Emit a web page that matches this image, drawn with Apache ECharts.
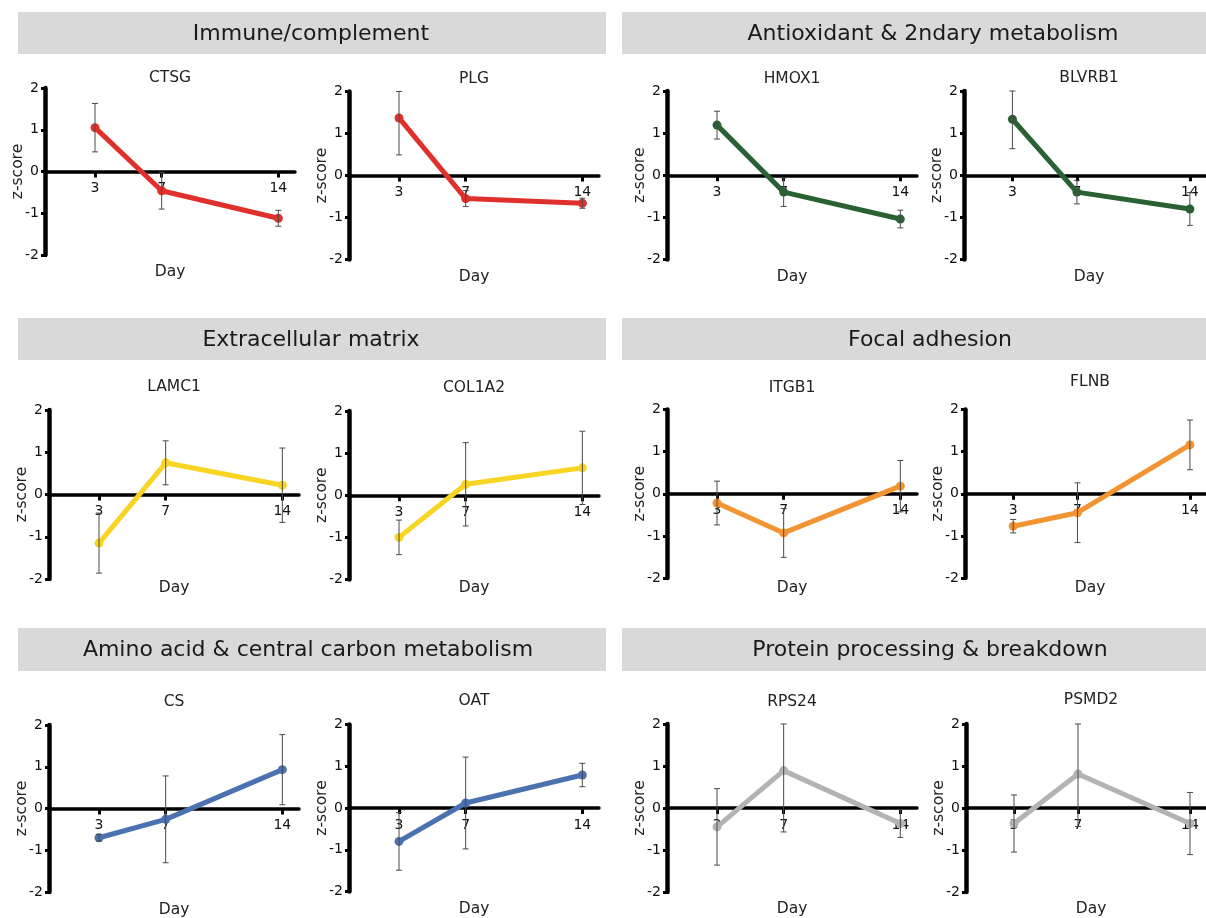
<!DOCTYPE html>
<html>
<head>
<meta charset="utf-8">
<script src="https://cdn.jsdelivr.net/npm/echarts@6/dist/echarts.min.js"></script>
<style>
html,body{margin:0;padding:0;background:#fff;}
#chart{width:1206px;height:918px;}
</style>
</head>
<body>
<div id="chart"></div>
<script>
// ---------- DATA ----------
const days = [3, 7, 14];
const dayTicks = [3, 7, 14];
const yTicks = [-2, -1, 0, 1, 2];
const groupNames = [
  'Immune/complement', 'Antioxidant & 2ndary metabolism',
  'Extracellular matrix', 'Focal adhesion',
  'Amino acid & central carbon metabolism', 'Protein processing & breakdown'
];
const geneNames = ['CTSG', 'PLG', 'HMOX1', 'BLVRB1', 'LAMC1', 'COL1A2', 'ITGB1', 'FLNB', 'CS', 'OAT', 'RPS24', 'PSMD2'];

const ctsgMean = [1.05, -0.46, -1.12];   const ctsgErr = [0.58, 0.44, 0.19];
const plgMean = [1.37, -0.55, -0.66];    const plgErr = [0.88, 0.19, 0.12];
const hmox1Mean = [1.19, -0.40, -1.04];  const hmox1Err = [0.33, 0.34, 0.21];
const blvrb1Mean = [1.33, -0.40, -0.80]; const blvrb1Err = [0.70, 0.28, 0.39];
const lamc1Mean = [-1.15, 0.75, 0.22];   const lamc1Err = [0.71, 0.52, 0.88];
const col1a2Mean = [-1.00, 0.26, 0.65];  const col1a2Err = [0.41, 0.99, 0.87];
const itgb1Mean = [-0.22, -0.93, 0.18];  const itgb1Err = [0.52, 0.58, 0.61];
const flnbMean = [-0.77, -0.45, 1.16];   const flnbErr = [0.16, 0.71, 0.59];
const csMean = [-0.70, -0.26, 0.93];     const csErr = [0.08, 1.04, 0.84];
const oatMean = [-0.80, 0.12, 0.79];     const oatErr = [0.69, 1.10, 0.28];
const rps24Mean = [-0.45, 0.89, -0.37];  const rps24Err = [0.91, 1.46, 0.33];
const psmd2Mean = [-0.37, 0.81, -0.37];  const psmd2Err = [0.68, 1.25, 0.74];

const means = [ctsgMean, plgMean, hmox1Mean, blvrb1Mean, lamc1Mean, col1a2Mean, itgb1Mean, flnbMean, csMean, oatMean, rps24Mean, psmd2Mean];
const errs = [ctsgErr, plgErr, hmox1Err, blvrb1Err, lamc1Err, col1a2Err, itgb1Err, flnbErr, csErr, oatErr, rps24Err, psmd2Err];

// ---------- STYLE / LAYOUT ----------
const FONT = 'DejaVu Sans';
const groupColors = ['#e0302b', '#2a6132', '#f8d423', '#f29431', '#4a72b1', '#b3b3b3'];
const panels = [
  {left: 45,  top: 88,    h: 167,   titleY: 78,    dayY: 271.5},
  {left: 349, top: 91.5,  h: 168,   titleY: 78.5,  dayY: 276.5},
  {left: 667, top: 91,    h: 168.5, titleY: 78.5,  dayY: 277},
  {left: 964, top: 91,    h: 168.5, titleY: 78,    dayY: 277},
  {left: 49,  top: 410,   h: 169,   titleY: 387,   dayY: 587.5},
  {left: 349, top: 411,   h: 168.5, titleY: 388,   dayY: 587.5},
  {left: 667, top: 409.5, h: 168.5, titleY: 388,   dayY: 587.5},
  {left: 965, top: 409.5, h: 168.5, titleY: 382,   dayY: 587.5},
  {left: 49,  top: 725,   h: 167,   titleY: 701.5, dayY: 910},
  {left: 349, top: 724.5, h: 167,   titleY: 700.5, dayY: 908.5},
  {left: 667, top: 724,   h: 168,   titleY: 702,   dayY: 908.5},
  {left: 966, top: 724,   h: 168,   titleY: 699.5, dayY: 908.5}
];
const PW = 250;
const headers = [
  {x: 18,  y: 12,  w: 588, h: 42, tx: 311},
  {x: 622, y: 12,  w: 620, h: 42, tx: 933},
  {x: 18,  y: 318, w: 588, h: 42, tx: 311},
  {x: 622, y: 318, w: 620, h: 42, tx: 930},
  {x: 18,  y: 628, w: 588, h: 43, tx: 308},
  {x: 622, y: 628, w: 620, h: 43, tx: 930}
];

const grid = [], xAxis = [], yAxis = [], series = [], graphic = [];

headers.forEach((hd, i) => {
  graphic.push({type: 'rect', shape: {x: hd.x, y: hd.y, width: hd.w, height: hd.h}, style: {fill: '#d9d9d9'}, silent: true});
  graphic.push({type: 'text', x: hd.tx, y: hd.y + hd.h / 2 + 1, style: {text: groupNames[i], font: '22px "' + FONT + '"', fill: '#1a1a1a', textAlign: 'center', textVerticalAlign: 'middle'}, silent: true});
});

panels.forEach((p, i) => {
  const color = groupColors[Math.floor(i / 2)];
  grid.push({left: p.left, top: p.top, width: PW, height: p.h, containLabel: false});
  xAxis.push({
    type: 'value', gridIndex: i, min: 0, max: 15, position: 'bottom',
    offset: -p.h / 2,
    axisLine: {onZero: false, lineStyle: {color: '#000', width: 3.5}},
    axisTick: {show: true, customValues: dayTicks, length: 6, lineStyle: {color: '#000', width: 3}},
    axisLabel: {show: true, customValues: dayTicks, margin: 10, color: '#111', fontSize: 14, fontFamily: FONT},
    splitLine: {show: false}
  });
  yAxis.push({
    type: 'value', gridIndex: i, min: -2, max: 2, interval: 1,
    name: 'z-score', nameLocation: 'middle', nameRotate: 90, nameGap: 19,
    nameMoveOverlap: false,
    nameTextStyle: {fontSize: 15.5, fontFamily: FONT, color: '#222'},
    axisLine: {show: true, onZero: false, lineStyle: {color: '#000', width: 4.5}},
    axisTick: {show: true, length: 4, lineStyle: {color: '#000', width: 3}},
    axisLabel: {margin: 6, color: '#111', fontSize: 14, fontFamily: FONT},
    splitLine: {show: false}
  });
  const lineData = days.map((d, k) => [d, means[i][k]]);
  const errData = days.map((d, k) => [d, means[i][k], errs[i][k]]);
  series.push({
    type: 'line', xAxisIndex: i, yAxisIndex: i, data: lineData,
    symbol: 'circle', symbolSize: 9, showSymbol: true,
    lineStyle: {color: color, width: 5}, itemStyle: {color: color},
    z: 3, silent: true
  });
  series.push({
    type: 'custom', xAxisIndex: i, yAxisIndex: i, data: errData,
    encode: {x: 0, y: 1}, z: 4, silent: true,
    renderItem: function (params, api) {
      const x = api.value(0), m = api.value(1), e = api.value(2);
      const hi = Math.min(2, m + e), lo = Math.max(-2, m - e);
      const a = api.coord([x, hi]), b = api.coord([x, lo]);
      const cw = 3;
      const st = {stroke: '#4a4a4a', lineWidth: 1};
      return {type: 'group', children: [
        {type: 'line', shape: {x1: a[0], y1: a[1], x2: b[0], y2: b[1]}, style: st},
        {type: 'line', shape: {x1: a[0] - cw, y1: a[1], x2: a[0] + cw, y2: a[1]}, style: st},
        {type: 'line', shape: {x1: b[0] - cw, y1: b[1], x2: b[0] + cw, y2: b[1]}, style: st}
      ]};
    }
  });
  const cx = p.left + PW / 2;
  graphic.push({type: 'text', x: cx, y: p.titleY, style: {text: geneNames[i], font: '15.5px "' + FONT + '"', fill: '#222', textAlign: 'center', textVerticalAlign: 'middle'}, silent: true});
  graphic.push({type: 'text', x: cx, y: p.dayY, style: {text: 'Day', font: '15.5px "' + FONT + '"', fill: '#222', textAlign: 'center', textVerticalAlign: 'middle'}, silent: true});
});

const chart = echarts.init(document.getElementById('chart'), null, {renderer: 'canvas'});
chart.setOption({
  animation: false,
  backgroundColor: '#fff',
  grid: grid, xAxis: xAxis, yAxis: yAxis, series: series, graphic: graphic
});
</script>
</body>
</html>
